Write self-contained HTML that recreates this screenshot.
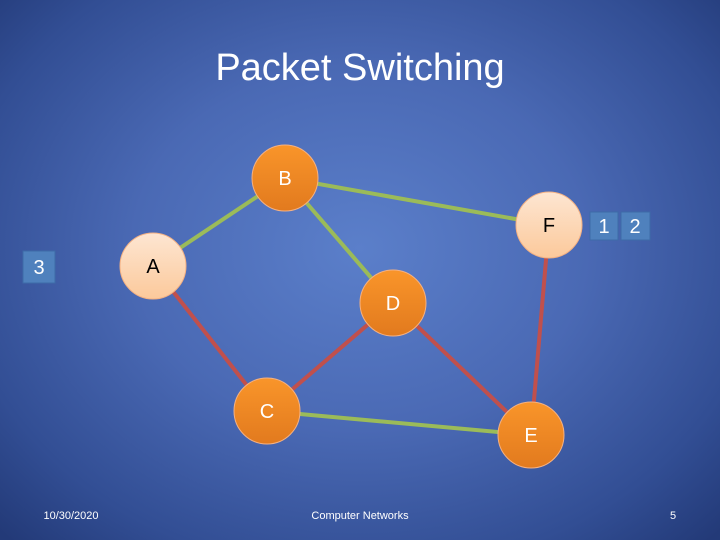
<!DOCTYPE html>
<html><head><style>
html,body{margin:0;padding:0}
body{width:720px;height:540px;overflow:hidden;position:relative;font-family:"Liberation Sans",sans-serif;
background:radial-gradient(ellipse 70% 75% at 50% 46%,#5b7fca 0%,#4a69b4 45%,#324e94 80%,#233a78 100%);}
svg{position:absolute;left:0;top:0}
</style></head><body>
<svg width="720" height="540" viewBox="0 0 720 540">
<defs>
<linearGradient id="or" x1="0" y1="0" x2="0" y2="1"><stop offset="0" stop-color="#f9952a"/><stop offset="1" stop-color="#e27a1e"/></linearGradient>
<linearGradient id="pe" x1="0" y1="0" x2="0" y2="1"><stop offset="0" stop-color="#fde6d2"/><stop offset="1" stop-color="#fcc99b"/></linearGradient>
</defs>
<text x="360" y="80" font-size="38" fill="#fff" text-anchor="middle" font-family="Liberation Sans, sans-serif">Packet Switching</text>
<g stroke-width="4" stroke-linecap="round">
<line x1="285" y1="178" x2="549" y2="225" stroke="#9bbb59"/>
<line x1="285" y1="178" x2="153" y2="266" stroke="#9bbb59"/>
<line x1="285" y1="178" x2="393" y2="303" stroke="#9bbb59"/>
<line x1="267" y1="411" x2="531" y2="435" stroke="#9bbb59"/>
<line x1="153" y1="266" x2="267" y2="411" stroke="#c0504d"/>
<line x1="393" y1="303" x2="267" y2="411" stroke="#c0504d"/>
<line x1="393" y1="303" x2="531" y2="435" stroke="#c0504d"/>
<line x1="549" y1="225" x2="531" y2="435" stroke="#c0504d"/>
</g>
<g stroke="#f4b183" stroke-width="1">
<circle cx="285" cy="178" r="33" fill="url(#or)"/>
<circle cx="549" cy="225" r="33" fill="url(#pe)"/>
<circle cx="153" cy="266" r="33" fill="url(#pe)"/>
<circle cx="393" cy="303" r="33" fill="url(#or)"/>
<circle cx="267" cy="411" r="33" fill="url(#or)"/>
<circle cx="531" cy="435" r="33" fill="url(#or)"/>
</g>
<g font-size="20" text-anchor="middle" font-family="Liberation Sans, sans-serif">
<text x="285" y="185" fill="#fff">B</text>
<text x="549" y="232" fill="#000">F</text>
<text x="153" y="273" fill="#000">A</text>
<text x="393" y="310" fill="#fff">D</text>
<text x="267" y="418" fill="#fff">C</text>
<text x="531" y="442" fill="#fff">E</text>
</g>
<g fill="#4f81bd" stroke="#3d6aa8" stroke-width="1">
<rect x="23" y="251" width="32" height="32"/>
<rect x="590" y="212" width="28" height="28"/>
<rect x="621" y="212" width="29" height="28"/>
</g>
<g font-size="20" fill="#fff" text-anchor="middle" font-family="Liberation Sans, sans-serif">
<text x="39" y="274">3</text>
<text x="604" y="233">1</text>
<text x="635" y="233">2</text>
</g>
<g font-size="11" fill="#fff" font-family="Liberation Sans, sans-serif">
<text x="71" y="519" text-anchor="middle">10/30/2020</text>
<text x="360" y="519" text-anchor="middle">Computer Networks</text>
<text x="673" y="519" text-anchor="middle">5</text>
</g>
</svg>
</body></html>
